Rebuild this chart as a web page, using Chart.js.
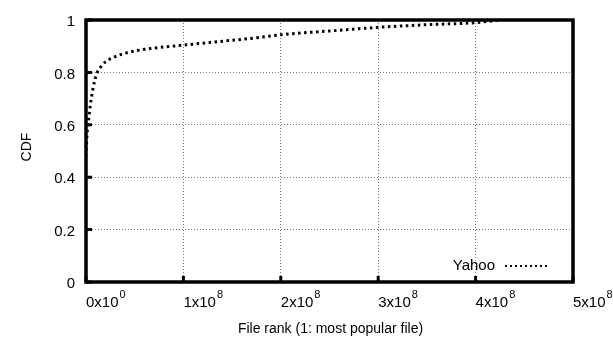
<!DOCTYPE html>
<html>
<head>
<meta charset="utf-8">
<script src="https://cdn.jsdelivr.net/npm/chart.js@4"></script>
<style>
  body { margin: 0; background: #fff; }
  #wrap { width: 613px; height: 337px; }
</style>
</head>
<body>
<div id="wrap"><canvas id="cdfChart" width="613" height="337"></canvas></div>
<script>
// File rank (x) and CDF value (y)
const fileRank = [0, 1e6, 2e6, 3e6, 5e6, 7e6, 9e6, 1.1e7, 1.5e7, 2e7, 3e7, 4.2e7, 6e7, 8e7,
  1e8, 1.4e8, 1.75e8, 2e8, 2.5e8, 3e8, 3.5e8, 4e8, 4.25e8];
const yahooCdf = [0.48, 0.56, 0.6, 0.63, 0.69, 0.735, 0.77, 0.795, 0.82, 0.84, 0.86, 0.875, 0.888, 0.897,
  0.904, 0.919, 0.932, 0.944, 0.958, 0.972, 0.982, 0.99, 1.0];
const xTickMantissa = ['0', '1', '2', '3', '4', '5'];
const xTickExponent = ['0', '8', '8', '8', '8', '8'];
const xTickValues = [0, 1e8, 2e8, 3e8, 4e8, 5e8];
const seriesName = 'Yahoo';
const xTitle = 'File rank (1: most popular file)';
const yTitle = 'CDF';

const FONT = '"Liberation Sans", Arial, Helvetica, sans-serif';

// Draw frame, inward ticks, x labels with superscripts, axis titles and key
const gnuplotLook = {
  id: 'gnuplotLook',
  afterDraw(chart) {
    const ctx = chart.ctx;
    const area = chart.chartArea;
    const xs = chart.scales.x;
    const ys = chart.scales.y;
    ctx.save();

    // inward tick marks
    ctx.strokeStyle = '#000';
    ctx.lineWidth = 3;
    ctx.beginPath();
    xTickValues.forEach(v => {
      const px = xs.getPixelForValue(v);
      ctx.moveTo(px, area.bottom);
      ctx.lineTo(px, area.bottom - 6);
    });
    ys.ticks.forEach(t => {
      const py = ys.getPixelForValue(t.value);
      ctx.moveTo(area.left, py);
      ctx.lineTo(area.left + 6, py);
    });
    ctx.stroke();

    // frame
    ctx.lineWidth = 3.5;
    ctx.strokeRect(area.left, area.top, area.right - area.left, area.bottom - area.top);

    // x tick labels with exponent
    ctx.fillStyle = '#000';
    ctx.textBaseline = 'alphabetic';
    ctx.textAlign = 'left';
    xTickValues.forEach((v, i) => {
      const px = xs.getPixelForValue(v);
      ctx.font = '15px ' + FONT;
      const base = xTickMantissa[i] + 'x10';
      ctx.fillText(base, px, 307);
      const w = ctx.measureText(base).width;
      ctx.font = '11px ' + FONT;
      ctx.fillText(xTickExponent[i], px + w + 1, 298);
    });

    // axis titles
    ctx.font = '14px ' + FONT;
    ctx.textAlign = 'center';
    ctx.fillText(xTitle, (area.left + area.right) / 2 + 1, 333);
    ctx.save();
    ctx.translate(31, 147);
    ctx.rotate(-Math.PI / 2);
    ctx.fillText(yTitle, 0, 0);
    ctx.restore();

    // key
    ctx.font = '15px ' + FONT;
    ctx.textAlign = 'right';
    ctx.textBaseline = 'middle';
    ctx.fillText(seriesName, 495, 266);
    ctx.setLineDash([2, 3]);
    ctx.lineWidth = 2;
    ctx.beginPath();
    ctx.moveTo(505, 266);
    ctx.lineTo(550, 266);
    ctx.stroke();

    ctx.restore();
  }
};

const points = fileRank.map((x, i) => ({ x: x, y: yahooCdf[i] }));

new Chart(document.getElementById('cdfChart'), {
  type: 'line',
  data: {
    datasets: [{
      label: seriesName,
      data: points,
      borderColor: '#000',
      borderWidth: 3,
      borderDash: [2.5, 3.5],
      borderCapStyle: 'butt',
      pointRadius: 0,
      cubicInterpolationMode: 'monotone',
      fill: false
    }]
  },
  options: {
    responsive: false,
    animation: false,
    devicePixelRatio: 1,
    layout: { padding: { top: 10, right: 40, left: 0, bottom: 0 } },
    plugins: {
      legend: { display: false },
      tooltip: { enabled: false }
    },
    scales: {
      x: {
        type: 'linear',
        min: 0,
        max: 5e8,
        afterFit: scale => { scale.height = 55; },
        ticks: { display: false, stepSize: 1e8 },
        grid: { color: '#555', lineWidth: 0.8, drawTicks: false },
        border: { display: false, dash: [1, 2] }
      },
      y: {
        min: 0,
        max: 1,
        afterFit: scale => { scale.width = 86; },
        ticks: {
          stepSize: 0.2,
          padding: 11,
          labelOffset: 2,
          color: '#000',
          font: { family: FONT, size: 15 },
          callback: v => String(Math.round(v * 10) / 10)
        },
        grid: { color: '#555', lineWidth: 0.8, drawTicks: false },
        border: { display: false, dash: [1, 2] }
      }
    }
  },
  plugins: [gnuplotLook]
});
</script>
</body>
</html>
